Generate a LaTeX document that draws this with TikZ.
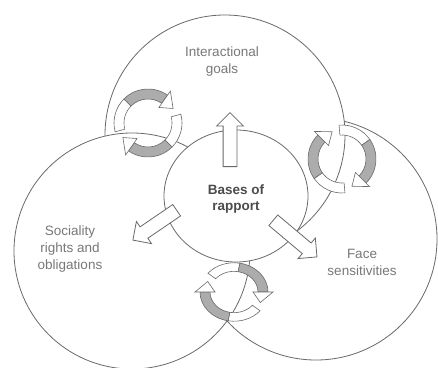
\documentclass[tikz,border=0pt]{standalone}
\usepackage{fontspec}
\setmainfont{Liberation Sans}
\usepackage{tikz}
\usetikzlibrary{shapes.arrows, shapes.geometric}
\definecolor{lineGrey}{RGB}{105,105,105}
\definecolor{textGrey}{RGB}{120,120,120}
\definecolor{bandGrey}{RGB}{172,172,172}

% two chasing arrows round a centre: #1 centre, #2 start angle, #3 extra options
\newcommand{\cyclearrows}[3]{%
  \begin{scope}[shift={(#1)}, #3]
    \foreach \s in {#2, #2+180} {
      \filldraw[band] (\s:34) arc[start angle=\s, end angle=\s+60, radius=34]
        -- (\s+60:24) arc[start angle=\s+60, end angle=\s, radius=24] -- cycle;
      \filldraw[band, fill=bandGrey] (\s+60:34) arc[start angle=\s+60, end angle=\s+140, radius=34]
        -- (\s+140:24) arc[start angle=\s+140, end angle=\s+60, radius=24] -- cycle;
      \filldraw[band] (\s+140:19) -- (\s+140:39) -- (\s+165:29) -- cycle;
    }
  \end{scope}}

\begin{document}
\begin{tikzpicture}[
    x=1pt, y=-1pt,
    outline/.style={draw=lineGrey, line width=0.8pt},
    band/.style={draw=lineGrey, line width=0.6pt, fill=white},
    label/.style={text=textGrey, align=center,
                  font=\fontsize{13.5}{17}\selectfont},
    blockarrow/.style={single arrow, draw=lineGrey, fill=white,
                       line width=0.8pt, inner xsep=0pt, inner ysep=6.5pt,
                       single arrow head extend=6.5pt, anchor=tail}
]
\useasboundingbox (0,0) rectangle (438,367);
\fill[white] (0,0) rectangle (438,367);

% outer circles (face, goals, sociality)
\draw[outline] (316,239) circle[radius=121];
\filldraw[outline, fill=white] (225,135) circle[radius=120];
\filldraw[outline, fill=white] (132,251) circle[radius=118];

% centre
\node (bases) [ellipse, outline, fill=white, minimum width=144pt,
               minimum height=132pt] at (236,196) {};

% labels
\node (goalsText)  [label] at (222,62)  {Interactional\\goals};
\node (socialText) [label] at (70,249)  {Sociality\\rights and\\obligations};
\node (faceText)   [label] at (362,262) {Face\\sensitivities};
\node (basesText)  [label, text=black!70, font=\fontsize{13.5}{16}\selectfont\bfseries]
                   at (236,199) {Bases of\\rapport};

% arrows out of the centre
\node (toGoals)  [blockarrow, minimum height=54pt, rotate=90]    at (230,167) {};
\node (toSocial) [blockarrow, minimum height=53pt, rotate=214.3] at (177,210) {};
\node (toFace)   [blockarrow, minimum height=57pt, rotate=-40]   at (273,220) {};

% cycles where the circles overlap
\coordinate (cycGoalsSocial) at (148,123);
\coordinate (cycGoalsFace)   at (342,159);
\coordinate (cycSocialFace)  at (234,292);
\cyclearrows{cycGoalsSocial}{165}{}
\cyclearrows{cycGoalsFace}{85}{}
\cyclearrows{cycSocialFace}{220}{yscale=0.86}
\end{tikzpicture}
\end{document}
